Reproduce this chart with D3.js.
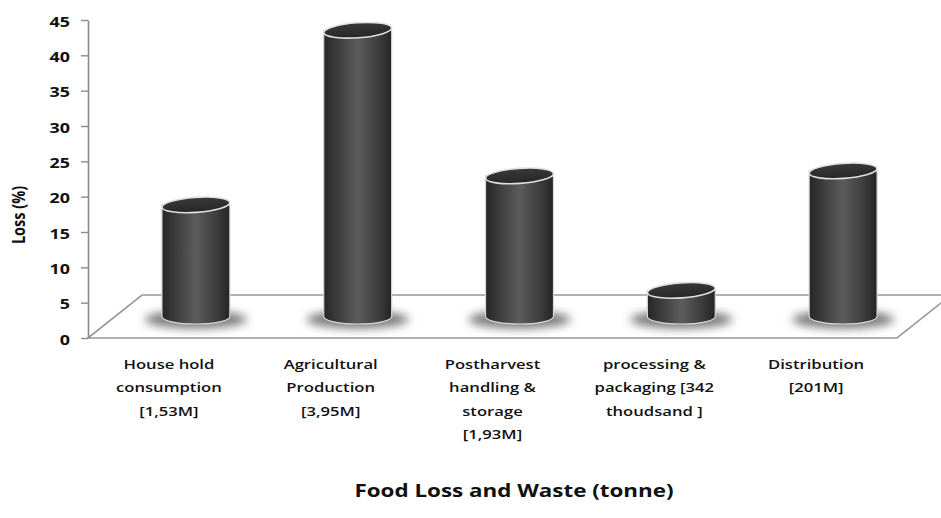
<!DOCTYPE html>
<html>
<head>
<meta charset="utf-8">
<script src="https://cdn.jsdelivr.net/npm/d3@7"></script>
<style>
  body { margin: 0; background: #fff; }
  text { font-family: "Open Sans", "Noto Sans", sans-serif; fill: #111; }
</style>
</head>
<body>
<div id="chart"></div>
<script>
// Food loss by stage (% of total), tonnage in the label
const categories = [
    ["House hold", "consumption", "[1,53M]"],
    ["Agricultural", "Production", "[3,95M]"],
    ["Postharvest", "handling &", "storage", "[1,93M]"],
    ["processing &", "packaging [342", "thoudsand ]"],
    ["Distribution", "[201M]"]
];
const lossPct = [15.8, 40.5, 19.9, 3.7, 20.6];
const yTicks = [0, 5, 10, 15, 20, 25, 30, 35, 40, 45];

const width = 941, height = 518;
const margin = { top: 20, right: 44, bottom: 180, left: 88 };
const depth = { dx: 54, dy: -43 };   // floor depth offset
const stretch = 1.28;                // text in the original is wide

const svg = d3.select("#chart")
    .append("svg")
    .attr("width", width)
    .attr("height", height);

const defs = svg.append("defs");

const grad = defs.append("linearGradient").attr("id", "cyl");
[[0, "#262626"], [0.18, "#3a3a3a"], [0.5, "#5c5c5c"], [0.82, "#3b3b3b"], [1, "#242424"]]
    .forEach(s => grad.append("stop").attr("offset", s[0]).attr("stop-color", s[1]));

const topGrad = defs.append("linearGradient").attr("id", "cyltop")
    .attr("x1", 0).attr("y1", 0).attr("x2", 0).attr("y2", 1);
topGrad.append("stop").attr("offset", 0).attr("stop-color", "#3a3a3a");
topGrad.append("stop").attr("offset", 1).attr("stop-color", "#262626");

defs.append("filter").attr("id", "blur")
    .attr("x", "-50%").attr("y", "-100%").attr("width", "200%").attr("height", "300%")
    .append("feGaussianBlur").attr("stdDeviation", 5);

// Scales
const x = d3.scaleBand()
    .domain(d3.range(categories.length))
    .range([margin.left, width - margin.right])
    .padding(0);

const y = d3.scaleLinear()
    .domain([0, 45])
    .range([height - margin.bottom, margin.top]);

const x0 = x.range()[0], x1 = x.range()[1], yb = y(0);

// Floor
svg.append("path")
    .attr("d", `M${x0},${yb} L${x0 + depth.dx},${yb + depth.dy} L${x1 + depth.dx},${yb + depth.dy} L${x1},${yb} Z`)
    .attr("fill", "#fff")
    .attr("stroke", "#999")
    .attr("stroke-width", 1.6);

// Y axis
const yAxis = svg.append("g")
    .attr("transform", `translate(${margin.left},0)`)
    .call(d3.axisLeft(y).tickValues(yTicks).tickSize(7).tickSizeOuter(0));
yAxis.select(".domain").attr("stroke", "#8a8a8a").attr("stroke-width", 1.6);
yAxis.selectAll(".tick line").attr("stroke", "#8a8a8a").attr("stroke-width", 1.4);
yAxis.selectAll(".tick text")
    .attr("x", -18 / stretch)
    .attr("dy", "0.45em")
    .attr("transform", `scale(${stretch},1)`)
    .style("font-family", "'Open Sans', sans-serif")
    .style("font-size", "14px")
    .style("font-weight", "bold")
    .attr("fill", "#111");

// Cylinders sit at mid-depth
const r = x.bandwidth() * 0.21, ry = 7.5;
const cx = i => x(i) + x.bandwidth() / 2 + depth.dx / 2;
const base = yb + depth.dy / 2;
const topY = v => y(v) + depth.dy / 2;

const bars = svg.append("g")
    .selectAll("g")
    .data(lossPct)
    .enter().append("g");

// shadow on the floor
bars.append("ellipse")
    .attr("cx", (d, i) => cx(i))
    .attr("cy", base + 3)
    .attr("rx", r * 1.5)
    .attr("ry", 9)
    .attr("fill", "#777")
    .attr("filter", "url(#blur)");

// body
bars.append("path")
    .attr("d", (d, i) => {
        const c = cx(i), t = topY(d);
        return `M${c - r},${t} L${c - r},${base} A${r},${ry} 0 0 0 ${c + r},${base} L${c + r},${t} Z`;
    })
    .attr("fill", "url(#cyl)")
    .attr("stroke", "#d8d8d8")
    .attr("stroke-width", 1.2);

// top
bars.append("ellipse")
    .attr("cx", (d, i) => cx(i))
    .attr("cy", d => topY(d))
    .attr("rx", r)
    .attr("ry", ry)
    .attr("transform", (d, i) => `rotate(-4,${cx(i)},${topY(d)})`)
    .attr("fill", "url(#cyltop)")
    .attr("stroke", "#e0e0e0")
    .attr("stroke-width", 1.6);

// Category labels
const labels = svg.append("g")
    .selectAll("g")
    .data(categories)
    .enter().append("g")
    .attr("transform", (d, i) => `translate(${x(i) + x.bandwidth() / 2},${yb + 31}) scale(${stretch},1)`);

labels.append("text")
    .attr("text-anchor", "middle")
    .style("font-size", "13px")
    .style("font-weight", 600)
    .selectAll("tspan")
    .data(d => d)
    .enter().append("tspan")
    .attr("x", 0)
    .attr("y", (d, i) => i * 23.5)
    .text(d => d);

// X-axis title
svg.append("g")
    .attr("transform", `translate(514,497) scale(${stretch},1)`)
    .append("text")
    .attr("text-anchor", "middle")
    .style("font-size", "17.5px")
    .style("font-weight", "bold")
    .text("Food Loss and Waste (tonne)");

// Y-axis title
svg.append("g")
    .attr("transform", `translate(25,215) rotate(-90) scale(1,${stretch})`)
    .append("text")
    .attr("text-anchor", "middle")
    .style("font-size", "14.5px")
    .style("font-weight", "bold")
    .text("Loss (%)");
</script>
</body>
</html>
